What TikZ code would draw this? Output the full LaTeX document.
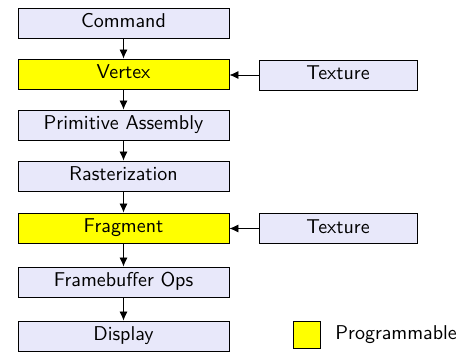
\documentclass[tikz,border=0pt]{standalone}
\usepackage{tikz}
\usepackage{xcolor}
\usetikzlibrary{arrows.meta}
\definecolor{stagefill}{RGB}{232,232,250}
\definecolor{progfill}{RGB}{255,255,0}
\tikzset{stage/.style={draw=black, fill=stagefill, minimum width=105.5pt,
   minimum height=15pt, inner sep=0pt, text height=7pt, text depth=2pt},
 prog/.style={stage, fill=progfill},
 texbox/.style={stage, minimum width=79pt},
 flow/.style={-{Latex[length=4.5pt,width=4pt]}},
 }

\begin{document}
\begin{tikzpicture}[x=.5pt, y=-.5pt, font=\sffamily]
        \useasboundingbox (0, 0) rectangle (461, 352);
        % pipeline stages
        \node [stage] (cmd) at (123.5, 23) {Command};
        \node [prog] (vert) at (123.5, 74) {Vertex};
        \node [stage] (prim) at (123.5, 125) {Primitive Assembly};
        \node [stage] (rast) at (123.5, 176) {Rasterization};
        \node [prog] (frag) at (123.5, 228) {Fragment};
        \node [stage] (fbops) at (123.5, 282) {Framebuffer Ops};
        \node [stage] (disp) at (123.5, 336) {Display};
        % texture inputs
        \node [texbox] (vtex) at (338, 75) {Texture};
        \node [texbox] (ftex) at (338, 228.5) {Texture};
        \draw [flow] (cmd) -- (vert);
        \draw [flow] (vert) -- (prim);
        \draw [flow] (prim) -- (rast);
        \draw [flow] (rast) -- (frag);
        \draw [flow] (frag) -- (fbops);
        \draw [flow] (fbops) -- (disp);
        \draw [flow] (vtex) -- (vtex -| vert.east);
        \draw [flow] (ftex) -- (ftex -| frag.east);
        % legend
        \node [draw=black, fill=progfill, minimum size=13.5pt, inner sep=0pt] (key) at (306.5, 335) {};
        \node [anchor=west, inner sep=0pt] (keytext) at (335, 335) {Programmable};
    \end{tikzpicture}
\end{document}
